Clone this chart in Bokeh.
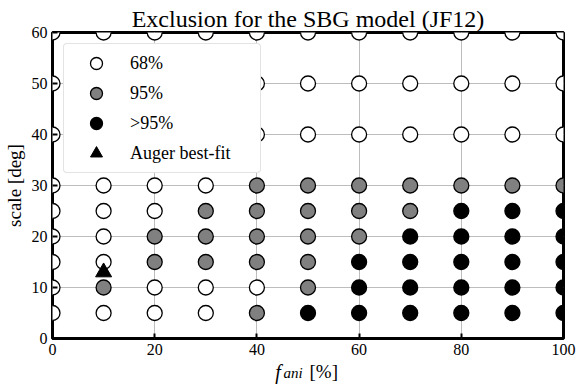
from bokeh.plotting import figure
from bokeh.layouts import column
from bokeh.models import Label, Legend, LegendItem, FixedTicker, Range1d
from bokeh.embed import file_html
from bokeh.resources import INLINE

# ---- data ----
fani = [0, 10, 20, 30, 40, 50, 60, 70, 80, 90, 100]
scales = [5, 10, 15, 20, 25, 30, 40, 50, 60]
# exclusion level for each (scale row, fani column): 0 = 68%, 1 = 95%, 2 = >95%
levels = [
    [0, 0, 0, 0, 1, 2, 2, 2, 2, 2, 2],   # 5 deg
    [0, 1, 0, 0, 0, 1, 2, 2, 2, 2, 2],   # 10 deg
    [0, 0, 1, 1, 1, 1, 2, 2, 2, 2, 2],   # 15 deg
    [0, 0, 1, 1, 1, 1, 1, 2, 2, 2, 2],   # 20 deg
    [0, 0, 0, 1, 1, 1, 1, 1, 2, 2, 2],   # 25 deg
    [0, 0, 0, 0, 1, 1, 1, 1, 1, 1, 1],   # 30 deg
    [0, 0, 0, 0, 0, 0, 0, 0, 0, 0, 0],   # 40 deg
    [0, 0, 0, 0, 0, 0, 0, 0, 0, 0, 0],   # 50 deg
    [0, 0, 0, 0, 0, 0, 0, 0, 0, 0, 0],   # 60 deg
]
level_names = ["68%", "95%", ">95%"]
level_colors = ["white", "#808080", "black"]
auger_fani = [10]
auger_scale = [13]
x_ticks = [0, 20, 40, 60, 80, 100]
y_ticks = [0, 10, 20, 30, 40, 50, 60]

SERIF = "Liberation Serif"
W = 582
H_MAIN, H_XLABEL = 362, 30

x_range = Range1d(0, 100)
p = figure(width=W, height=H_MAIN, x_range=x_range, y_range=Range1d(0, 60),
           output_backend="svg", toolbar_location=None,
           title="Exclusion for the SBG model (JF12)",
           min_border_left=52, min_border_right=19, min_border_top=32, min_border_bottom=24)
p.title.align = "center"
p.title.text_font = SERIF
p.title.text_font_style = "normal"
p.title.text_font_size = "24px"
p.title.text_color = "black"
p.title.standoff = 1

p.outline_line_color = "black"
p.outline_line_width = 3
p.outline_line_alpha = 1

p.xaxis.ticker = FixedTicker(ticks=x_ticks)
p.yaxis.ticker = FixedTicker(ticks=y_ticks)
for ax in (p.xaxis, p.yaxis):
    ax.axis_line_color = None
    ax.major_tick_in = 5
    ax.major_tick_out = 0
    ax.major_tick_line_width = 2
    ax.major_tick_line_color = "black"
    ax.minor_tick_line_color = None
    ax.major_label_text_font = SERIF
    ax.major_label_text_font_size = "16px"
    ax.major_label_text_color = "black"
    ax.major_label_standoff = 5
p.yaxis.axis_label = "scale [deg]"
p.yaxis.axis_label_text_font = SERIF
p.yaxis.axis_label_text_font_style = "normal"
p.yaxis.axis_label_text_font_size = "19px"
p.yaxis.axis_label_text_color = "black"
p.yaxis.axis_label_standoff = 4

p.xgrid.ticker = FixedTicker(ticks=x_ticks)
p.ygrid.ticker = FixedTicker(ticks=y_ticks)
p.grid.grid_line_color = "#bdbdbd"
p.grid.grid_line_width = 1

renderers = []
for lv in range(3):
    xs, ys = [], []
    for i, s in enumerate(scales):
        for j, f in enumerate(fani):
            if levels[i][j] == lv:
                xs.append(f)
                ys.append(s)
    r = p.scatter(xs, ys, marker="circle", size=15, fill_color=level_colors[lv],
                  line_color="black", line_width=1.3)
    renderers.append(r)

rt = p.scatter(auger_fani, auger_scale, marker="triangle", size=16,
               fill_color="black", line_color="black", line_width=1)

items = [LegendItem(label=level_names[k], renderers=[renderers[k]]) for k in range(3)]
items.append(LegendItem(label="Auger best-fit", renderers=[rt]))
legend = Legend(items=items, location="top_left")
legend.margin = 11
legend.padding = 4
legend.spacing = 0
legend.glyph_width = 56
legend.glyph_height = 30
legend.label_height = 30
legend.label_width = 126
legend.label_standoff = 6
legend.label_text_font = SERIF
legend.label_text_font_size = "18px"
legend.label_text_color = "black"
legend.border_line_color = "#c8c8c8"
legend.border_line_width = 1
legend.background_fill_alpha = 1
if "border_radius" in Legend.properties():
    legend.border_radius = 4
p.add_layout(legend)

# strip below the plot carrying the x-axis label "f_ani [%]" (italic f, italic subscript)
q = figure(width=W, height=H_XLABEL, x_range=x_range, y_range=Range1d(0, 1),
           output_backend="svg", toolbar_location=None,
           x_axis_location=None, y_axis_location=None,
           min_border_left=52, min_border_right=19, min_border_top=0, min_border_bottom=0)
q.title.visible = False
q.grid.visible = False
q.outline_line_color = None

xlabel_parts = [  # (fani position of left edge, px above strip bottom, text, size, style)
    (43.6, 21, "f", "20px", "italic"),
    (45.2, 20, "ani", "15px", "italic"),
    (50.3, 21, "[%]", "19px", "normal"),
]
for x, dy, txt, size, style in xlabel_parts:
    q.add_layout(Label(x=x, y=0, y_offset=dy, text=txt, text_align="left",
                       text_baseline="alphabetic", text_font=SERIF, text_font_style=style,
                       text_font_size=size, text_color="black"))

open("out.html", "w").write(file_html(column(p, q, spacing=0), INLINE))
